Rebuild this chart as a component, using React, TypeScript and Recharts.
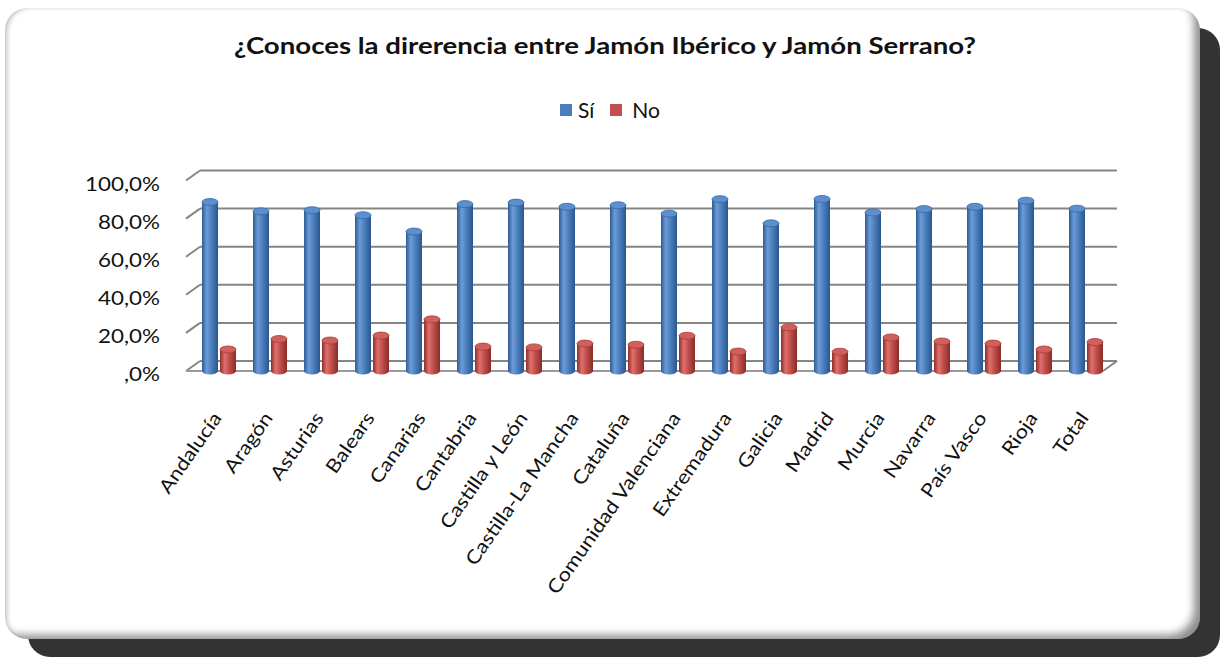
import React from "react"
import { BarChart, Bar, XAxis, YAxis, CartesianGrid } from "recharts"

const REGIONS = [
  "Andalucía",
  "Aragón",
  "Asturias",
  "Balears",
  "Canarias",
  "Cantabria",
  "Castilla y León",
  "Castilla-La Mancha",
  "Cataluña",
  "Comunidad Valenciana",
  "Extremadura",
  "Galicia",
  "Madrid",
  "Murcia",
  "Navarra",
  "País Vasco",
  "Rioja",
  "Total",
]
const SI = [88.7, 83.8, 84.4, 81.8, 73.2, 87.6, 88.4, 86.2, 87.0, 82.6, 90.2, 77.5, 90.3, 83.2, 85.0, 86.2, 89.4, 85.2]
const NO = [11.3, 16.8, 16.0, 18.6, 27.1, 12.8, 12.4, 14.4, 13.8, 18.5, 10.2, 22.9, 10.1, 17.6, 15.5, 14.4, 11.3, 15.2]
const Y_TICKS = [0, 20, 40, 60, 80, 100]

const TITLE = "¿Conoces la direrencia entre Jamón Ibérico y Jamón Serrano?"
const FONT = "Lato, 'Open Sans', sans-serif"

const data = REGIONS.map((region, i) => ({ region, si: SI[i], no: NO[i] }))

const fmtPct = (v: number) => (v === 0 ? ",0%" : `${v},0%`)

// cylinder drawn from the bar rect recharts hands us
const cylinder = (grad: string, topFill: string, rimStroke: string) => (props: any) => {
  const { x, y, width: w, height: h } = props
  if (!w || h == null) return null
  const rx = w / 2
  const ry = 3.5
  const cx = x + rx
  return (
    <g>
      <path
        d={`M${x},${y} L${x},${y + h} A${rx},${ry} 0 0 0 ${x + w},${y + h} L${x + w},${y} Z`}
        fill={`url(#${grad})`}
      />
      <ellipse cx={cx} cy={y} rx={rx} ry={ry} fill={topFill} stroke={rimStroke} strokeWidth={0.8} />
    </g>
  )
}

const gridLine = (props: any) => {
  const { x1, x2, y1, index } = props
  const bottom = props.y + props.height
  const fl = x1 - 7
  const bl = x1 + 7
  const br = x2 + 6
  const fr = x2 - 8
  const by = y1 - 10
  const isFloor = Math.abs(y1 - bottom) < 1
  return (
    <g key={`g-${index}`} stroke="#858585" strokeWidth={2} fill="none">
      <line x1={fl} y1={y1} x2={bl} y2={by} />
      <line x1={bl} y1={by} x2={br} y2={by} />
      {isFloor && (
        <>
          <line x1={fl} y1={y1} x2={fr} y2={y1} stroke="#9a9a9a" />
          <line x1={fr} y1={y1} x2={br} y2={by} />
        </>
      )}
    </g>
  )
}

const YTick = (props: any) => {
  const { x, y, payload } = props
  return (
    <text
      x={0}
      y={0}
      transform={`translate(${x - 25},${y + 10}) scale(1.12,1)`}
      textAnchor="end"
      fontFamily={FONT}
      fontSize={20}
      fill="#111"
    >
      {fmtPct(payload.value)}
    </text>
  )
}

const XTick = (props: any) => {
  const { x, y, payload } = props
  return (
    <text
      x={0}
      y={0}
      transform={`translate(${x + 4},${y + 39}) rotate(-55) scale(1.15,1)`}
      textAnchor="end"
      fontFamily={FONT}
      fontSize={19}
      fill="#111"
    >
      {payload.value}
    </text>
  )
}

export default function App() {
  return (
    <div style={{ position: "absolute", left: 0, top: 0, width: 1222, height: 659, background: "#fff", overflow: "hidden" }}>
      <div
        style={{
          position: "absolute",
          left: 28,
          top: 28,
          width: 1192,
          height: 629,
          borderRadius: 22,
          background: "#333",
        }}
      />
      <div
        style={{
          position: "absolute",
          left: 5,
          top: 8,
          width: 1195,
          height: 631,
          borderRadius: 22,
          background: "#fff",
          boxShadow:
            "inset -10px -8px 8px -4px rgba(0,0,0,0.45), inset 5px 2px 5px -3px rgba(0,0,0,0.25)",
        }}
      />
      <div
        style={{
          position: "absolute",
          left: 0,
          width: 1210,
          top: 31,
          textAlign: "center",
          fontFamily: FONT,
          fontWeight: 700,
          fontSize: 23,
          color: "#111",
          transform: "scaleX(1.2)",
          whiteSpace: "nowrap",
        }}
      >
        {TITLE}
      </div>
      <div
        style={{
          position: "absolute",
          left: 560,
          top: 97,
          display: "flex",
          alignItems: "center",
          fontFamily: FONT,
          fontSize: 21,
          color: "#111",
          whiteSpace: "nowrap",
        }}
      >
        <span style={{ width: 12, height: 12, background: "#4a7ebb", display: "inline-block", marginRight: 6 }} />
        <span style={{ marginRight: 16 }}>Sí</span>
        <span style={{ width: 12, height: 12, background: "#c0504d", display: "inline-block", marginRight: 10 }} />
        <span>No</span>
      </div>
      <div style={{ position: "absolute", left: 0, top: 0 }}>
        <BarChart
          width={1222}
          height={659}
          data={data}
          margin={{ top: 180.5, right: 111, bottom: 88, left: 93 }}
          barSize={16}
          barGap={2}
        >
          <defs>
            <linearGradient id="gradSi" x1="0" y1="0" x2="1" y2="0">
              <stop offset="0%" stopColor="#2d5c95" />
              <stop offset="30%" stopColor="#6d9bd6" />
              <stop offset="55%" stopColor="#4f83c2" />
              <stop offset="100%" stopColor="#2a568c" />
            </linearGradient>
            <linearGradient id="gradNo" x1="0" y1="0" x2="1" y2="0">
              <stop offset="0%" stopColor="#8e2e2b" />
              <stop offset="30%" stopColor="#e0716d" />
              <stop offset="55%" stopColor="#c4524f" />
              <stop offset="100%" stopColor="#8a2b28" />
            </linearGradient>
          </defs>
          <CartesianGrid vertical={false} horizontal={gridLine} />
          <XAxis
            dataKey="region"
            height={200}
            axisLine={false}
            tickLine={false}
            interval={0}
            tick={XTick}
          />
          <YAxis
            width={100}
            domain={[0, 100]}
            ticks={Y_TICKS}
            axisLine={false}
            tickLine={false}
            tick={YTick}
          />
          <Bar dataKey="si" name="Sí" fill="#4a7ebb" isAnimationActive={false} shape={cylinder("gradSi", "#5b8fd0", "#3a6aa6")} />
          <Bar dataKey="no" name="No" fill="#c0504d" isAnimationActive={false} shape={cylinder("gradNo", "#d25f5b", "#a53f3c")} />
        </BarChart>
      </div>
    </div>
  )
}
